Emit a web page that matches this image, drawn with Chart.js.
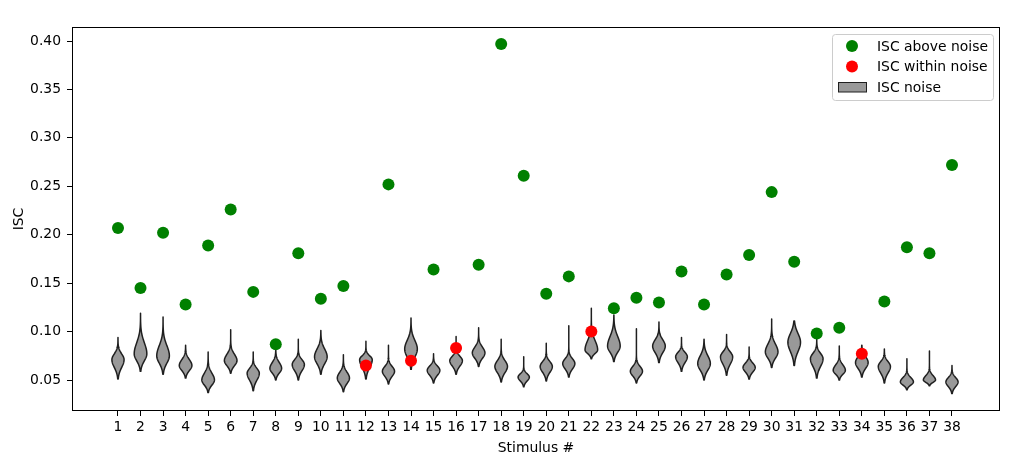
<!DOCTYPE html>
<html>
<head>
<meta charset="utf-8">
<script src="https://cdn.jsdelivr.net/npm/chart.js@4/dist/chart.umd.min.js"></script>
<style>
  html, body { margin: 0; padding: 0; background: #fff; }
  #wrap { width: 1021px; height: 457px; }
</style>
</head>
<body>
<div id="wrap"><canvas id="chart"></canvas></div>
<script>
const stimuli = [1, 2, 3, 4, 5, 6, 7, 8, 9, 10, 11, 12, 13, 14, 15, 16, 17, 18, 19,
  20, 21, 22, 23, 24, 25, 26, 27, 28, 29, 30, 31, 32, 33, 34, 35, 36, 37, 38];

// measured ISC per stimulus
const iscValues = [0.207, 0.145, 0.202, 0.128, 0.189, 0.226, 0.141, 0.087, 0.181, 0.134,
  0.147, 0.065, 0.252, 0.070, 0.164, 0.083, 0.169, 0.397, 0.261, 0.139,
  0.157, 0.100, 0.124, 0.135, 0.130, 0.162, 0.128, 0.159, 0.179, 0.244,
  0.172, 0.098, 0.104, 0.077, 0.131, 0.187, 0.181, 0.272];

// stimuli whose ISC falls inside the noise distribution
const withinNoise = [12, 14, 16, 22, 34];

// noise distribution (violin) per stimulus: bottom tip, top tip, widest point, top of body, half width
const noiseLo = [0.051, 0.059, 0.056, 0.052, 0.037, 0.057, 0.039, 0.050, 0.050, 0.056,
  0.038, 0.051, 0.046, 0.061, 0.047, 0.056, 0.064, 0.048, 0.043, 0.049,
  0.053, 0.072, 0.069, 0.047, 0.068, 0.059, 0.050, 0.055, 0.051, 0.063,
  0.065, 0.052, 0.050, 0.053, 0.047, 0.040, 0.044, 0.036];
const noiseHi = [0.094, 0.119, 0.115, 0.086, 0.079, 0.102, 0.079, 0.081, 0.092, 0.101,
  0.076, 0.090, 0.086, 0.114, 0.077, 0.095, 0.104, 0.092, 0.074, 0.088,
  0.106, 0.124, 0.117, 0.103, 0.110, 0.094, 0.092, 0.097, 0.084, 0.113,
  0.111, 0.093, 0.085, 0.086, 0.082, 0.072, 0.080, 0.065];
const noisePeak = [0.071, 0.077, 0.075, 0.065, 0.050, 0.070, 0.057, 0.062, 0.066, 0.074,
  0.052, 0.071, 0.059, 0.082, 0.060, 0.070, 0.078, 0.064, 0.053, 0.064,
  0.067, 0.081, 0.085, 0.059, 0.085, 0.074, 0.067, 0.074, 0.063, 0.079,
  0.089, 0.072, 0.060, 0.068, 0.064, 0.048, 0.050, 0.048];
const noiseNeck = [0.083, 0.100, 0.096, 0.077, 0.064, 0.083, 0.067, 0.074, 0.076, 0.090,
  0.064, 0.079, 0.069, 0.100, 0.069, 0.079, 0.090, 0.076, 0.060, 0.074,
  0.077, 0.100, 0.105, 0.069, 0.098, 0.083, 0.083, 0.084, 0.072, 0.095,
  0.107, 0.083, 0.071, 0.080, 0.074, 0.057, 0.059, 0.057];
const noiseWidth = [0.27, 0.28, 0.28, 0.28, 0.28, 0.28, 0.27, 0.26, 0.27, 0.28,
  0.27, 0.28, 0.27, 0.28, 0.28, 0.28, 0.28, 0.28, 0.25, 0.27,
  0.27, 0.28, 0.28, 0.27, 0.28, 0.26, 0.28, 0.27, 0.27, 0.28,
  0.28, 0.28, 0.27, 0.28, 0.27, 0.29, 0.27, 0.27];

const yTicks = [0.05, 0.10, 0.15, 0.20, 0.25, 0.30, 0.35, 0.40];

const FONT = "'DejaVu Sans', sans-serif";
const FONT_SIZE = 13.9;
const GREEN = "#008000";
const RED = "#ff0000";
const VIOLIN_FILL = "#999999";
const VIOLIN_EDGE = "#1f1f1f";

const aboveData = [];
const withinData = [];
stimuli.forEach((s, i) => {
  const pt = { x: s, y: iscValues[i] };
  if (withinNoise.includes(s)) withinData.push(pt);
  else aboveData.push(pt);
});

function drawViolin(ctx, xs, ys, i) {
  const pos = stimuli[i];
  const lo = noiseLo[i], hi = noiseHi[i], pk = noisePeak[i], nk = noiseNeck[i], w = noiseWidth[i];
  const sUp = (nk - pk) / 2;
  const sDn = (pk - lo) / 2.5;
  const n = 80;
  const pts = [];
  for (let k = 0; k <= n; k++) {
    const v = lo + (hi - lo) * k / n;
    const s = v < pk ? sDn : sUp;
    const hw = w * Math.exp(-0.5 * Math.pow((v - pk) / s, 2));
    pts.push([v, hw]);
  }
  ctx.beginPath();
  pts.forEach(([v, hw], k) => {
    const x = xs.getPixelForValue(pos + hw);
    const y = ys.getPixelForValue(v);
    if (k === 0) ctx.moveTo(x, y); else ctx.lineTo(x, y);
  });
  for (let k = pts.length - 1; k >= 0; k--) {
    const [v, hw] = pts[k];
    ctx.lineTo(xs.getPixelForValue(pos - hw), ys.getPixelForValue(v));
  }
  ctx.closePath();
  ctx.fill();
  ctx.stroke();
}

const violinPlugin = {
  id: "violins",
  beforeDatasetsDraw(chart) {
    const ctx = chart.ctx;
    const xs = chart.scales.x, ys = chart.scales.y;
    const area = chart.chartArea;
    ctx.save();
    ctx.beginPath();
    ctx.rect(area.left, area.top, area.right - area.left, area.bottom - area.top);
    ctx.clip();
    ctx.fillStyle = VIOLIN_FILL;
    ctx.strokeStyle = VIOLIN_EDGE;
    ctx.lineWidth = 1.5;
    ctx.lineJoin = "round";
    stimuli.forEach((s, i) => drawViolin(ctx, xs, ys, i));
    ctx.restore();
  },
  afterDraw(chart) {
    const ctx = chart.ctx;
    const area = chart.chartArea;
    ctx.save();
    // frame (all four spines)
    ctx.strokeStyle = "#000";
    ctx.lineWidth = 1;
    ctx.strokeRect(Math.round(area.left) + 0.5, Math.round(area.top) + 0.5,
      Math.round(area.right - area.left) - 1, Math.round(area.bottom - area.top) - 1);

    // legend box, upper right inside the axes
    const bw = 161, bh = 66;
    const bx = area.right - 7 - bw, by = area.top + 7;
    ctx.beginPath();
    ctx.roundRect(bx + 0.5, by + 0.5, bw, bh, 3);
    ctx.fillStyle = "rgba(255,255,255,0.8)";
    ctx.fill();
    ctx.strokeStyle = "#cccccc";
    ctx.stroke();

    const items = [
      { label: "ISC above noise", kind: "dot", color: GREEN },
      { label: "ISC within noise", kind: "dot", color: RED },
      { label: "ISC noise", kind: "patch", color: VIOLIN_FILL }
    ];
    ctx.font = FONT_SIZE + "px " + FONT;
    ctx.textBaseline = "middle";
    ctx.textAlign = "left";
    items.forEach((it, k) => {
      const cy = by + 12 + k * 20.5;
      if (it.kind === "dot") {
        ctx.beginPath();
        ctx.arc(bx + 20, cy, 6, 0, Math.PI * 2);
        ctx.fillStyle = it.color;
        ctx.fill();
      } else {
        ctx.fillStyle = it.color;
        ctx.fillRect(bx + 6, cy - 4.5, 28, 9.5);
        ctx.strokeStyle = VIOLIN_EDGE;
        ctx.lineWidth = 1;
        ctx.strokeRect(bx + 6.5, cy - 4.5, 28, 9.5);
      }
      ctx.fillStyle = "#000";
      ctx.fillText(it.label, bx + 45, cy + 1);
    });
    ctx.restore();
  }
};

new Chart(document.getElementById("chart"), {
  type: "scatter",
  data: {
    datasets: [
      {
        label: "ISC above noise",
        data: aboveData,
        backgroundColor: GREEN,
        borderColor: GREEN,
        pointRadius: 6,
        pointBorderWidth: 0
      },
      {
        label: "ISC within noise",
        data: withinData,
        backgroundColor: RED,
        borderColor: RED,
        pointRadius: 6,
        pointBorderWidth: 0
      }
    ]
  },
  options: {
    responsive: true,
    maintainAspectRatio: false,
    animation: false,
    layout: { padding: { left: 0, right: 21, top: 27, bottom: 0 } },
    plugins: {
      legend: { display: false },
      tooltip: { enabled: false }
    },
    scales: {
      x: {
        type: "linear",
        min: -1.04,
        max: 40.13,
        afterBuildTicks: scale => {
          scale.ticks = stimuli.map(v => ({ value: v }));
        },
        afterFit: scale => { scale.height = 46; },
        grid: {
          display: true,
          drawOnChartArea: false,
          drawTicks: true,
          tickLength: 5,
          tickWidth: 1,
          tickColor: "#000"
        },
        border: { display: false },
        ticks: {
          color: "#000",
          font: { family: FONT, size: FONT_SIZE },
          padding: 3,
          maxRotation: 0,
          autoSkip: false,
          callback: v => String(v)
        },
        title: {
          display: true,
          text: "Stimulus #",
          color: "#000",
          font: { family: FONT, size: FONT_SIZE },
          padding: { top: 0, bottom: 0 }
        }
      },
      y: {
        type: "linear",
        min: 0.018,
        max: 0.4145,
        afterBuildTicks: scale => {
          scale.ticks = yTicks.map(v => ({ value: v }));
        },
        afterFit: scale => { scale.width = 72; },
        grid: {
          display: true,
          drawOnChartArea: false,
          drawTicks: true,
          tickLength: 5,
          tickWidth: 1,
          tickColor: "#000"
        },
        border: { display: false },
        ticks: {
          color: "#000",
          font: { family: FONT, size: FONT_SIZE },
          padding: 6,
          callback: v => v.toFixed(2)
        },
        title: {
          display: true,
          text: "ISC",
          color: "#000",
          font: { family: FONT, size: FONT_SIZE },
          padding: { top: 11, bottom: 4 }
        }
      }
    }
  },
  plugins: [violinPlugin]
});
</script>
</body>
</html>
